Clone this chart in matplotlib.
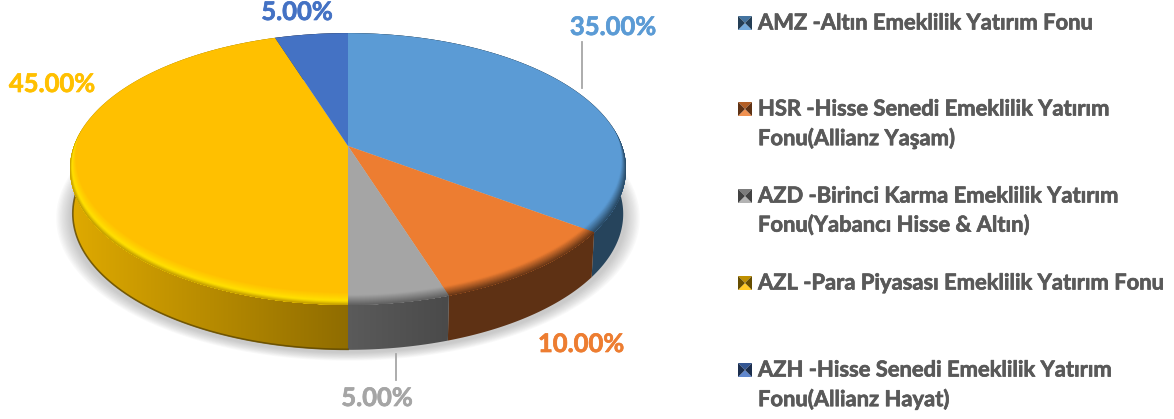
import numpy as np
import matplotlib
matplotlib.use("Agg")
import matplotlib.pyplot as plt
import matplotlib.patheffects as pe
from matplotlib.patches import Polygon, PathPatch
from matplotlib.path import Path
from matplotlib.colors import to_rgb, LinearSegmentedColormap

values = [35, 10, 5, 45, 5]
pct_labels = ["35.00%", "10.00%", "5.00%", "45.00%", "5.00%"]
face_colors = ["#5B9BD5", "#ED7D31", "#A5A5A5", "#FFC000", "#4472C4"]
label_colors = ["#5B9BD5", "#ED7D31", "#A5A5A5", "#FFC000", "#4472C4"]
side_left = ["#26445C", "#5E3114", "#5C5C5C", "#E2AC00", "#26395F"]
side_right = ["#26445C", "#5E3114", "#484848", "#8F6C00", "#26395F"]
wall_span = [(0, 1174), (0, 1174), (340, 460), (60, 350), (0, 1174)]
legend_names = [
    "AMZ -Altın Emeklilik Yatırım Fonu",
    "HSR -Hisse Senedi Emeklilik Yatırım\nFonu(Allianz Yaşam)",
    "AZD -Birinci Karma Emeklilik Yatırım\nFonu(Yabancı Hisse & Altın)",
    "AZL -Para Piyasası Emeklilik Yatırım Fonu",
    "AZH -Hisse Senedi Emeklilik Yatırım\nFonu(Allianz Hayat)",
]
legend_y = [23, 109, 196, 283, 370]
label_pos = [(613, 27), (581, 344), (377, 398), (52, 84), (297, 12)]

plt.rcParams['font.family'] = ['Lato', 'DejaVu Sans']

fig = plt.figure(figsize=(11.74, 4.19), dpi=100)
ax = fig.add_axes([0, 0, 1, 1])
ax.set_xlim(0, 1174)
ax.set_ylim(419, 0)
ax.axis('off')

# pie plane with a bit of perspective, theta runs clockwise from 12 o'clock
CX, CY = 348, 146
A, B, P = 274, 132, -0.169
DEPTH = 45


def project(theta, r=1.0):
    u = r * np.sin(theta)
    v = -r * np.cos(theta)
    d = 1 + P * v
    return CX + A * u / d, CY + B * v / d


def slice_path(t0, t1):
    tt = np.linspace(t0, t1, 120)
    x, y = project(tt)
    return np.column_stack([np.r_[CX, x], np.r_[CY, y]])


def mix(c1, c2, t):
    c1, c2 = np.array(to_rgb(c1)), np.array(to_rgb(c2))
    return tuple(c1 + (c2 - c1) * t)


all_t = np.linspace(0, 2 * np.pi, 400)
ex, ey = project(all_t)

# soft shadow under the disc
for k in range(12):
    grow = 1 + k * 0.0045
    sx = CX + (ex - CX) * grow
    sy = CY + DEPTH + 3 + (ey - CY) * grow
    ax.add_patch(Polygon(np.column_stack([sx, sy]), fc='#8a8a8a', ec='none', alpha=0.045, zorder=1))

edges = np.cumsum([0] + values) / sum(values) * 2 * np.pi

# side walls
for i in range(len(values)):
    tt = np.linspace(edges[i], edges[i + 1], 120)
    x, y = project(tt)
    x2 = CX + (x - CX) * 0.99
    y2 = y + DEPTH
    wall = np.column_stack([np.r_[x, x2[::-1]], np.r_[y, y2[::-1]]])
    cmap = LinearSegmentedColormap.from_list('w', [side_left[i], side_right[i]])
    im = ax.imshow(np.linspace(0, 1, 256).reshape(1, -1), cmap=cmap, aspect='auto',
                   extent=[wall_span[i][0], wall_span[i][1], 419, 0], zorder=2)
    patch = Polygon(wall, transform=ax.transData, fc='none', ec='none')
    ax.add_patch(patch)
    im.set_clip_path(patch)
    # darker rim at the bottom of the wall
    if i == 3:
        ax.plot(x2, y2 - 0.5, color='#5E4700', lw=1.2, alpha=0.8, zorder=3)

ax.set_xlim(0, 1174)
ax.set_ylim(419, 0)

# top faces with the bevelled rim
STEPS = 14
for i in range(len(values)):
    pts = slice_path(edges[i], edges[i + 1])
    clip = PathPatch(Path(np.r_[pts, pts[:1]]), fc=face_colors[i], ec='none', zorder=4)
    ax.add_patch(clip)
    for s in range(STEPS):
        t = s / (STEPS - 1)
        if i == 3:
            if t < 0.35:
                col = mix('#B89000', '#FFE000', t / 0.35)
            else:
                col = mix('#FFE000', face_colors[i], (t - 0.35) / 0.65)
        else:
            col = mix(side_left[i], face_colors[i], min(1, t * 1.25))
        shift = 13 * t
        inset = 1 - 0.022 * t
        rx = CX + (ex - CX) * inset
        ry = ey - shift
        # everything outside this ring keeps the colour of the last step
        outer = np.array([[0, 0], [1174, 0], [1174, 419], [0, 419], [0, 0]])
        ring = Path(np.r_[outer, np.column_stack([rx, ry])[::-1], [[rx[-1], ry[-1]]]],
                    [Path.MOVETO] + [Path.LINETO] * 3 + [Path.CLOSEPOLY]
                    + [Path.MOVETO] + [Path.LINETO] * (len(rx) - 1) + [Path.CLOSEPOLY])
        band = PathPatch(ring, fc=col, ec='none', zorder=5 + (STEPS - s) * 0.01)
        ax.add_patch(band)
        band.set_clip_path(clip)

# value labels and leader lines
ax.plot([582, 582], [42, 88], color='#A6A6A6', lw=1.3, zorder=6)
ax.plot([396, 396], [354, 380], color='#A6A6A6', lw=1.3, zorder=6)
for lab, col, (lx, ly) in zip(pct_labels, label_colors, label_pos):
    ax.text(lx, ly, lab, color=col, fontsize=18.4, fontweight='bold', ha='center', va='center', zorder=7,
            path_effects=[pe.withStroke(linewidth=0.5, foreground=col)])

# legend, small pyramids for the keys
KEY = 7
for name, col, ly in zip(legend_names, face_colors, legend_y):
    kx = 745
    c = (kx, ly)
    tl, tr = (kx - KEY, ly - KEY), (kx + KEY, ly - KEY)
    bl, br = (kx - KEY, ly + KEY), (kx + KEY, ly + KEY)
    ax.add_patch(Polygon([tl, tr, c], fc=mix(col, '#000000', 0.25), ec='none', zorder=6))
    ax.add_patch(Polygon([bl, br, c], fc=mix(col, '#ffffff', 0.15), ec='none', zorder=6))
    ax.add_patch(Polygon([tl, bl, c], fc=mix(col, '#000000', 0.6), ec='none', zorder=6))
    ax.add_patch(Polygon([tr, br, c], fc=mix(col, '#000000', 0.6), ec='none', zorder=6))
    ax.text(758, ly - 10.5, name, color='#595959', fontsize=15.8, fontweight='bold',
            ha='left', va='top', linespacing=1.42, zorder=7,
            path_effects=[pe.withStroke(linewidth=0.5, foreground='#595959')])

fig.savefig('out.png', dpi=100)
